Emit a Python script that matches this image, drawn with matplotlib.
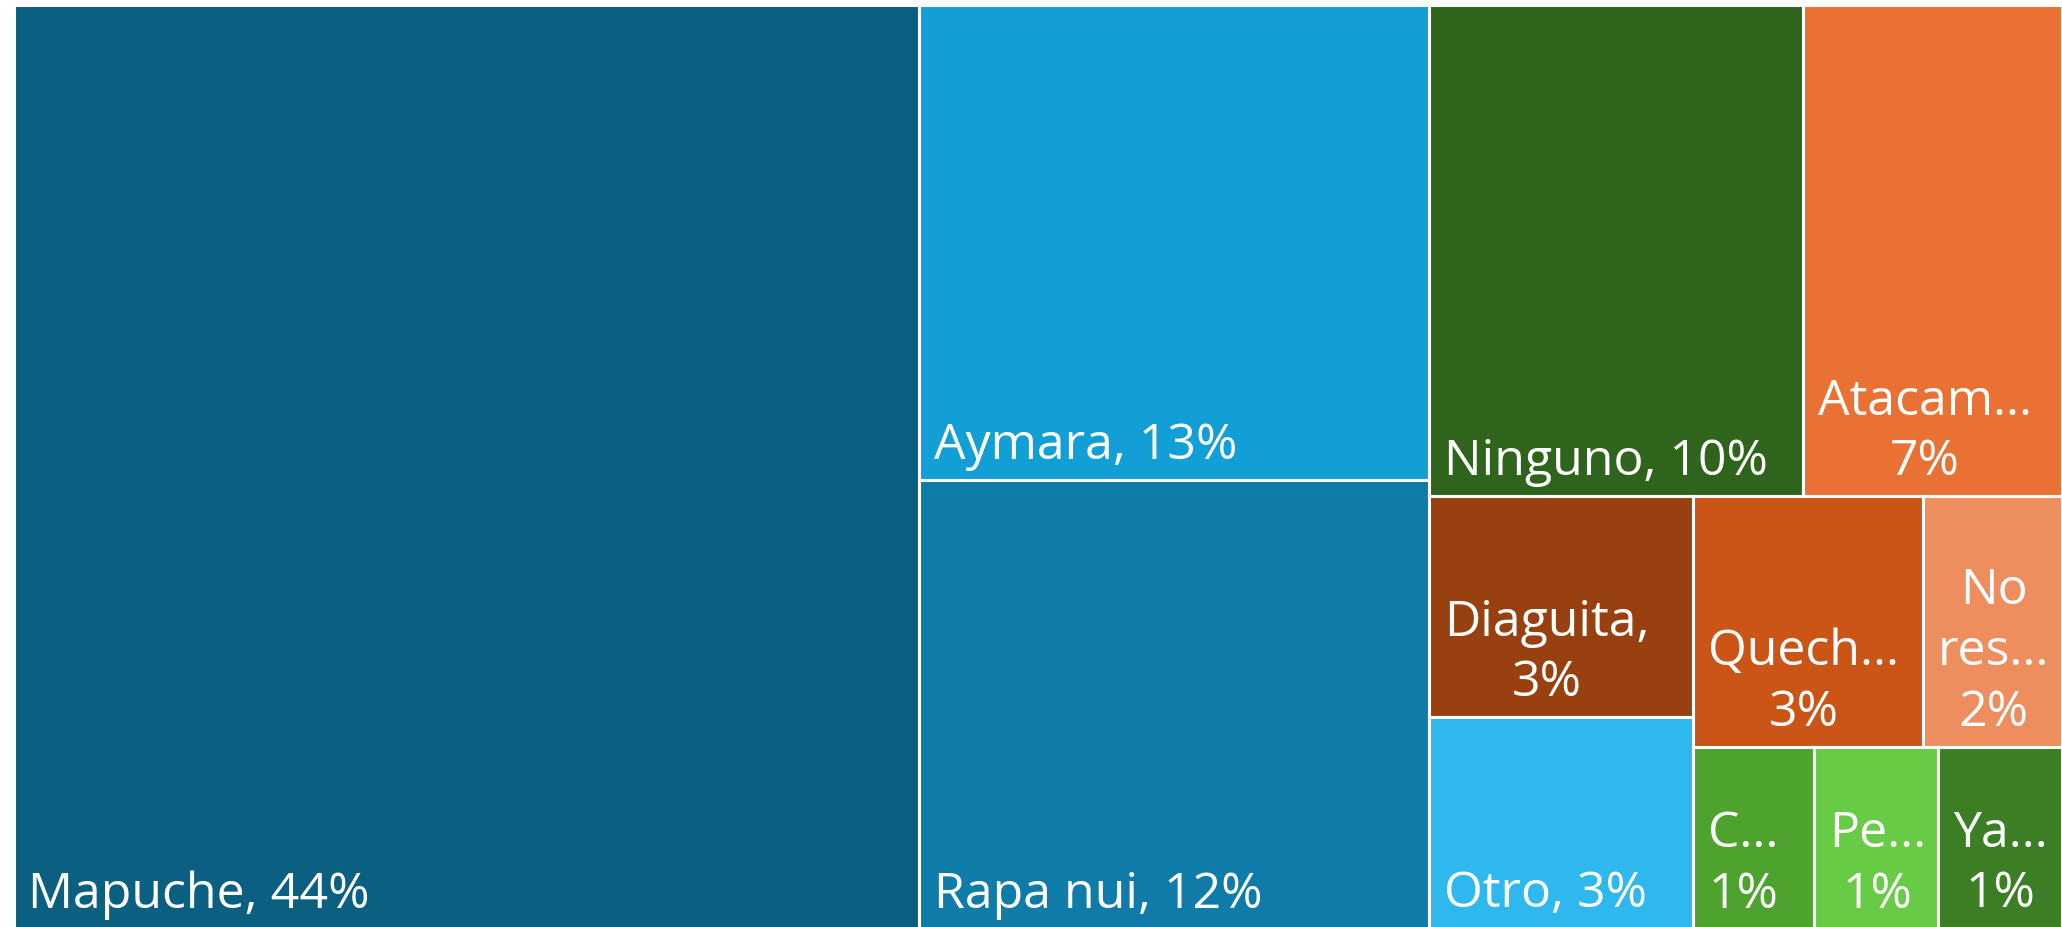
import matplotlib
matplotlib.use("Agg")
import matplotlib.pyplot as plt
from matplotlib.patches import Rectangle

# share of respondents by indigenous people (percent)
groups = ["Mapuche", "Aymara", "Rapa nui", "Ninguno", "Atacameño", "Diaguita",
          "Otro", "Quechua", "No responde", "Colla", "Pehuenche", "Yagán"]
values = [44.19, 12.83, 12.09, 9.71, 6.73, 3.09, 2.95, 3.04, 1.83, 1.16, 1.19, 1.19]
# labels as they appear in the cells (Excel truncates the small ones)
labels = ["Mapuche, 44%", "Aymara, 13%", "Rapa nui, 12%", "Ninguno, 10%",
          "Atacam...\n7%", "Diaguita,\n3%", "Otro, 3%", "Quech...\n3%",
          "No\nres...\n2%", "C...\n1%", "Pe...\n1%", "Ya...\n1%"]
colors = ["#0B5F80", "#129FD6", "#0E7BA8", "#2F641C", "#E97134", "#984010",
          "#2EB8EE", "#CB5516", "#EE8E5E", "#4EA32F", "#68CB45", "#3C7E24"]


def worst(row, side):
    s = sum(row)
    return max(max(side * side * r / (s * s), (s * s) / (side * side * r)) for r in row)


def squarify(vals, x, y, w, h):
    total = sum(vals)
    areas = [v / total * w * h for v in vals]
    rects = []
    i = 0
    while i < len(areas):
        side = min(w, h)
        row = [areas[i]]
        j = i + 1
        while j < len(areas) and worst(row + [areas[j]], side) <= worst(row, side):
            row.append(areas[j])
            j += 1
        s = sum(row)
        if w >= h:
            cw = s / h
            yy = y
            for a in row:
                rh = a / cw
                rects.append((x, yy, cw, rh))
                yy += rh
            x += cw
            w -= cw
        else:
            rh = s / w
            xx = x
            for a in row:
                rw = a / rh
                rects.append((xx, y, rw, rh))
                xx += rw
            y += rh
            h -= rh
        i = j
    return rects


W, H = 2062, 927
fig = plt.figure(figsize=(W / 100, H / 100), dpi=100)
ax = fig.add_axes([0, 0, 1, 1])
ax.set_xlim(0, W)
ax.set_ylim(H, 0)
ax.axis("off")

rects = squarify(values, 13.5, 4.5, 2048, 924)
for (x, y, w, h), lab, col in zip(rects, labels, colors):
    ax.add_patch(Rectangle((x, y), w, h, facecolor=col, edgecolor="white", linewidth=2.2))
    ax.text(x + 15, y + h - 21, lab, color="white", fontsize=36, family="Open Sans",
            ha="left", va="baseline", multialignment="center", linespacing=1.3)

fig.savefig("out.png", dpi=100)
